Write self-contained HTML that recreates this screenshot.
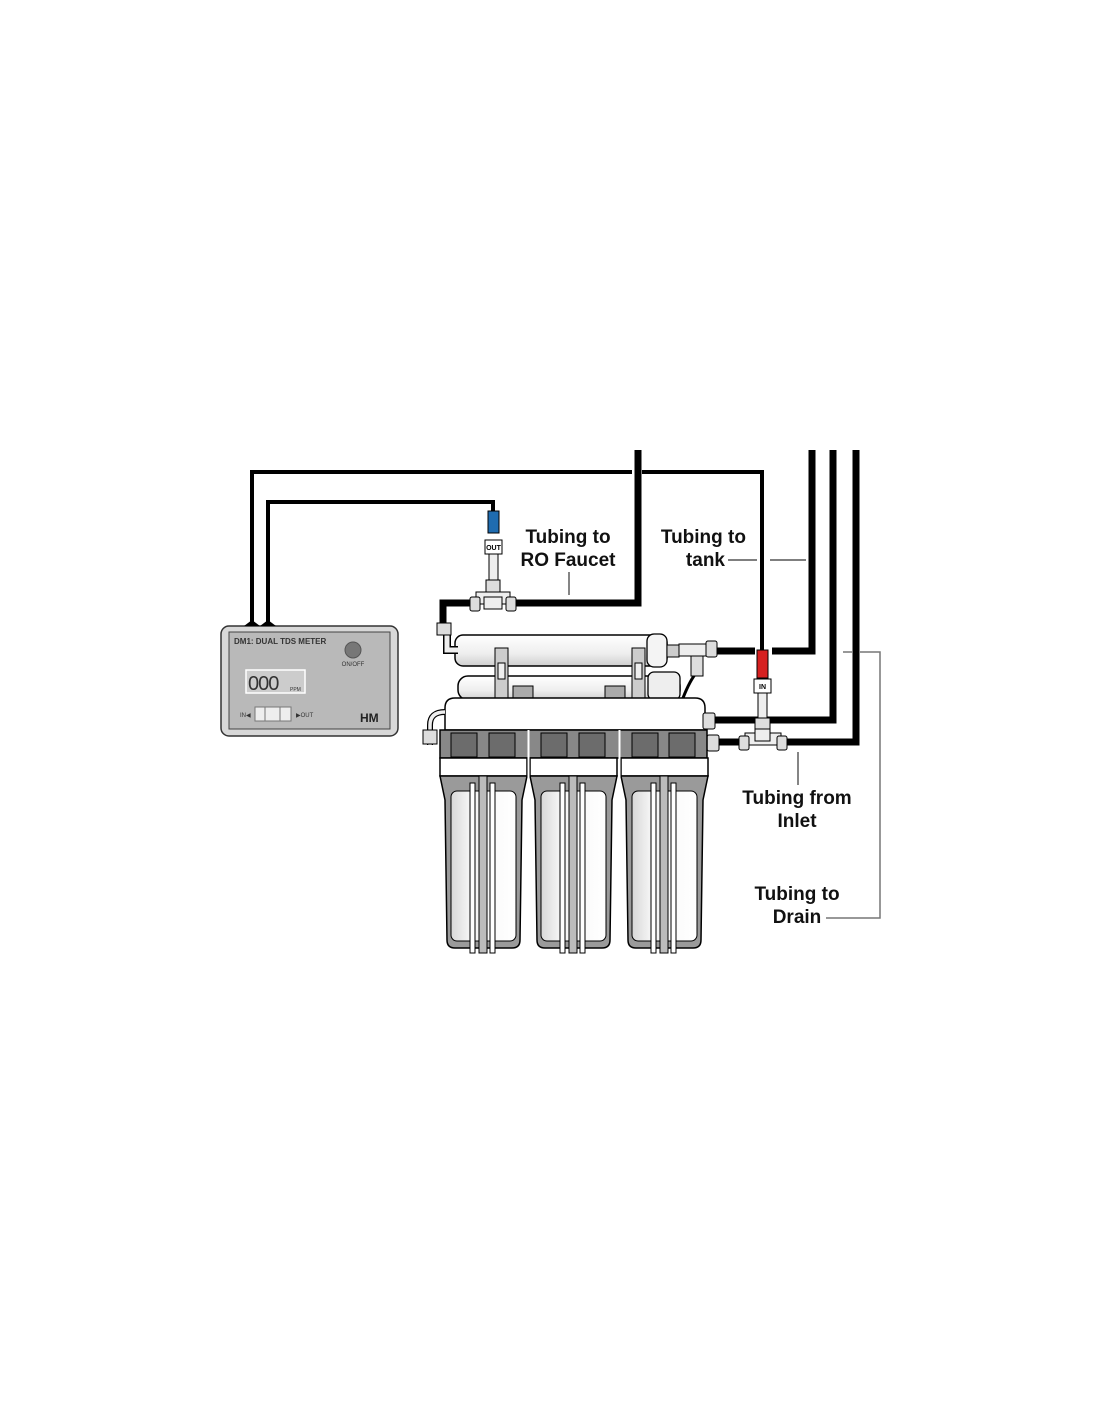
<!DOCTYPE html>
<html><head><meta charset="utf-8"><style>
html,body{margin:0;padding:0;background:#fff;}
svg{display:block;}
text{font-family:"Liberation Sans",sans-serif;}
</style></head><body>
<svg width="1100" height="1422" viewBox="0 0 1100 1422" xmlns="http://www.w3.org/2000/svg">
<defs>
<linearGradient id="cyl" x1="0" y1="0" x2="0" y2="1">
<stop offset="0" stop-color="#ffffff"/><stop offset="0.6" stop-color="#eeeeee"/><stop offset="1" stop-color="#cfcfcf"/>
</linearGradient>
<linearGradient id="hz" x1="0" y1="0" x2="1" y2="0">
<stop offset="0" stop-color="#d8d8d8"/><stop offset="0.3" stop-color="#f6f6f6"/><stop offset="1" stop-color="#ffffff"/>
</linearGradient>
<g id="housing">
<rect x="0" y="758" width="87" height="18" fill="#fff" stroke="#000" stroke-width="1.5"/>
<path d="M0 776 L87 776 L82 800 L80 940 Q80 948 72 948 L15 948 Q7 948 7 940 L5 800 Z" fill="#9a9a9a" stroke="#000" stroke-width="1.5"/>
<rect x="11" y="791" width="65" height="150" rx="6" fill="url(#hz)" stroke="#000" stroke-width="1"/>
<rect x="30" y="783" width="5" height="170" fill="#fff" stroke="#000" stroke-width="1"/>
<rect x="39" y="776" width="8" height="177" fill="#bbb" stroke="#000" stroke-width="1"/>
<rect x="50" y="783" width="5" height="170" fill="#fff" stroke="#000" stroke-width="1"/>
</g>
</defs>

<path d="M252 622 V472 H632 M642 472 H762 V652" fill="none" stroke="#000" stroke-width="4"/>
<path d="M268 622 V502 H493 V512" fill="none" stroke="#000" stroke-width="4"/>

<path d="M638 450 V603 H515" fill="none" stroke="#000" stroke-width="7"/>
<path d="M470 603 H443 V625" fill="none" stroke="#000" stroke-width="7"/>
<path d="M812 450 V651 H772 M755 651 H715" fill="none" stroke="#000" stroke-width="7"/>
<path d="M833 450 V720 H712" fill="none" stroke="#000" stroke-width="7"/>
<path d="M856 450 V742 H785 M740 742 H715" fill="none" stroke="#000" stroke-width="7"/>

<path d="M843 652 H852 M860 652 H880 V918 H826" fill="none" stroke="#777" stroke-width="1.5"/>

<line x1="569" y1="572" x2="569" y2="595" stroke="#333" stroke-width="1.2"/>
<line x1="728" y1="560" x2="757" y2="560" stroke="#333" stroke-width="1.2"/>
<line x1="770" y1="560" x2="806" y2="560" stroke="#333" stroke-width="1.2"/>
<line x1="798" y1="752" x2="798" y2="785" stroke="#333" stroke-width="1.2"/>

<rect x="488" y="511" width="11" height="22" fill="#1f6cb0" stroke="#000" stroke-width="1"/>
<rect x="485" y="540" width="17" height="14" fill="#fff" stroke="#000" stroke-width="1"/>
<text x="493.5" y="550" font-size="7" text-anchor="middle" font-weight="bold">OUT</text>
<rect x="489" y="554" width="9" height="26" fill="#eee" stroke="#000" stroke-width="1"/>
<rect x="486" y="580" width="14" height="12" fill="#ddd" stroke="#000" stroke-width="1"/>
<rect x="476" y="592" width="34" height="12" fill="#eee" stroke="#000" stroke-width="1"/>
<rect x="470" y="597" width="10" height="14" rx="2" fill="#ddd" stroke="#000" stroke-width="1"/>
<rect x="506" y="597" width="10" height="14" rx="2" fill="#ddd" stroke="#000" stroke-width="1"/>
<rect x="484" y="597" width="18" height="12" fill="#eee" stroke="#000" stroke-width="1"/>

<rect x="757" y="650" width="11" height="28" fill="#d62020" stroke="#000" stroke-width="1"/>
<rect x="754" y="679" width="17" height="14" fill="#fff" stroke="#000" stroke-width="1"/>
<text x="762.5" y="689" font-size="7" text-anchor="middle" font-weight="bold">IN</text>
<rect x="758" y="693" width="9" height="26" fill="#eee" stroke="#000" stroke-width="1"/>
<rect x="755" y="718" width="15" height="12" fill="#ddd" stroke="#000" stroke-width="1"/>
<rect x="745" y="733" width="36" height="12" fill="#eee" stroke="#000" stroke-width="1"/>
<rect x="739" y="736" width="10" height="14" rx="2" fill="#ddd" stroke="#000" stroke-width="1"/>
<rect x="777" y="736" width="10" height="14" rx="2" fill="#ddd" stroke="#000" stroke-width="1"/>
<rect x="755" y="729" width="15" height="12" fill="#eee" stroke="#000" stroke-width="1"/>

<rect x="221" y="626" width="177" height="110" rx="8" fill="#d8d8d8" stroke="#333" stroke-width="1.5"/>
<rect x="229" y="632" width="161" height="97" fill="#b9b9b9" stroke="#444" stroke-width="1"/>
<path d="M244 626 L252 620 L260 626 L268 620 L276 626 Z" fill="#000"/>
<text x="234" y="644" font-size="8" font-weight="bold" fill="#333">DM1: DUAL TDS METER</text>
<circle cx="353" cy="650" r="8" fill="#777" stroke="#555"/>
<text x="353" y="666" font-size="6" text-anchor="middle" fill="#333">ON/OFF</text>
<rect x="246" y="670" width="59" height="23" fill="#ccc" stroke="#fff" stroke-width="1.5"/>
<text x="248" y="690" font-size="20" fill="#333" font-family="Liberation Mono" letter-spacing="-1">000</text>
<text x="290" y="691" font-size="5" fill="#333">PPM</text>
<text x="240" y="717" font-size="6" fill="#333">IN◀</text>
<rect x="255" y="707" width="36" height="14" fill="#eee" stroke="#777"/>
<line x1="265" y1="707" x2="265" y2="721" stroke="#777"/><line x1="280" y1="707" x2="280" y2="721" stroke="#777"/>
<text x="296" y="717" font-size="6" fill="#333">▶OUT</text>
<text x="360" y="722" font-size="12" font-weight="bold" fill="#222">HM</text>

<rect x="458" y="676" width="222" height="24" rx="10" fill="url(#cyl)" stroke="#000" stroke-width="1.5"/>
<rect x="648" y="672" width="32" height="28" rx="6" fill="#eee" stroke="#000" stroke-width="1.3"/>
<rect x="513" y="686" width="20" height="14" fill="#aaa" stroke="#000"/>
<rect x="605" y="686" width="20" height="14" fill="#aaa" stroke="#000"/>
<path d="M683 698 Q690 680 697 672" fill="none" stroke="#000" stroke-width="3"/>

<rect x="455" y="635" width="212" height="31" rx="8" fill="url(#cyl)" stroke="#000" stroke-width="1.5"/>
<rect x="647" y="634" width="20" height="33" rx="7" fill="#f4f4f4" stroke="#000" stroke-width="1.3"/>
<path d="M447 628 V650 H458" fill="none" stroke="#000" stroke-width="8"/>
<path d="M447 628 V650 H458" fill="none" stroke="#eee" stroke-width="5"/>
<rect x="437" y="623" width="14" height="12" fill="#ddd" stroke="#000"/>
<rect x="495" y="648" width="13" height="50" fill="#ccc" stroke="#000"/>
<rect x="632" y="648" width="13" height="50" fill="#ccc" stroke="#000"/>
<rect x="498" y="663" width="7" height="16" fill="#eee" stroke="#000"/>
<rect x="635" y="663" width="7" height="16" fill="#eee" stroke="#000"/>
<rect x="667" y="645" width="12" height="12" fill="#ccc" stroke="#000"/>
<rect x="679" y="644" width="36" height="12" fill="#eee" stroke="#000"/>
<rect x="706" y="641" width="11" height="16" rx="2" fill="#ddd" stroke="#000"/>
<rect x="691" y="656" width="12" height="20" fill="#ddd" stroke="#000"/>

<path d="M445 730 V708 Q445 698 455 698 H695 Q705 698 705 708 V730 Z" fill="#fff" stroke="#000" stroke-width="1.5"/>
<path d="M445 712 Q430 712 430 725 V745" fill="none" stroke="#000" stroke-width="6"/>
<path d="M445 712 Q430 712 430 725 V745" fill="none" stroke="#eee" stroke-width="3.5"/>
<rect x="423" y="730" width="14" height="14" fill="#ddd" stroke="#000"/>
<rect x="703" y="713" width="12" height="16" rx="2" fill="#ddd" stroke="#000"/>
<rect x="707" y="735" width="12" height="16" rx="2" fill="#ddd" stroke="#000"/>

<rect x="440" y="730" width="267" height="28" fill="#888" stroke="#000" stroke-width="1.5"/>
<g fill="#6c6c6c" stroke="#000" stroke-width="1">
<rect x="451" y="733" width="26" height="24"/><rect x="489" y="733" width="26" height="24"/>
<rect x="541" y="733" width="26" height="24"/><rect x="579" y="733" width="26" height="24"/>
<rect x="632" y="733" width="26" height="24"/><rect x="669" y="733" width="26" height="24"/>
</g>

<use href="#housing" transform="translate(440,0)"/>
<use href="#housing" transform="translate(530,0)"/>
<use href="#housing" transform="translate(621,0)"/>
<line x1="528.5" y1="730" x2="528.5" y2="952" stroke="#fff" stroke-width="2"/>
<line x1="619.5" y1="730" x2="619.5" y2="952" stroke="#fff" stroke-width="2"/>

<g font-size="19" font-weight="bold" fill="#111">
<text x="568" y="543" text-anchor="middle">Tubing to</text>
<text x="568" y="566" text-anchor="middle">RO Faucet</text>
<text x="746" y="543" text-anchor="end">Tubing to</text>
<text x="725" y="566" text-anchor="end">tank</text>
<text x="797" y="804" text-anchor="middle">Tubing from</text>
<text x="797" y="827" text-anchor="middle">Inlet</text>
<text x="797" y="900" text-anchor="middle">Tubing to</text>
<text x="797" y="923" text-anchor="middle">Drain</text>
</g>
</svg>
</body></html>
